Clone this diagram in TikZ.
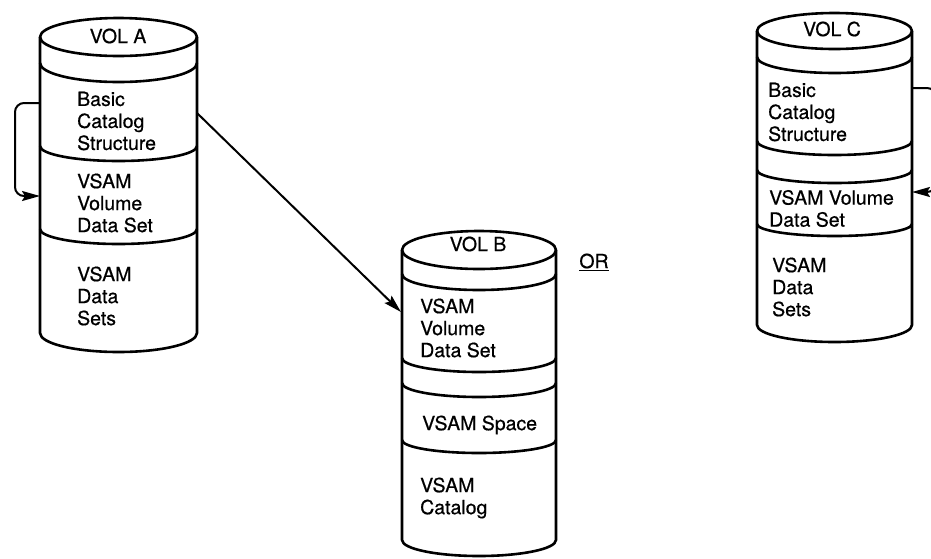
\documentclass[tikz,border=0pt]{standalone}
\usepackage{fontspec}
\setmainfont{TeX Gyre Heros}
\newfontfamily\labelfont[FakeBold=0.6]{TeX Gyre Heros}
\usetikzlibrary{arrows.meta}
\begin{document}
\begin{tikzpicture}[x=1pt,y=-1pt,
  outline/.style={line width=2.6pt, line join=round},
  label/.style={inner sep=0pt, anchor=west, align=left, font=\labelfont\fontsize{19.5}{22}\selectfont},
  head/.style={inner sep=0pt, font=\labelfont\fontsize{19.5}{22}\selectfont},
  link/.style={line width=2pt, -{Stealth[length=18pt,width=10pt,inset=3pt]}},
  sep/.style={start angle=180, end angle=0, x radius=#1},
]
\useasboundingbox (0,0) rectangle (931,558);

% ---------------- VOL A ----------------
\draw[outline] (118.5,37) ellipse[x radius=78.5, y radius=19];
\draw[outline] (40,37) -- (40,333) arc[sep=78.5, y radius=19] -- (197,37);
\draw[outline] (40,63)  arc[sep=78.5, y radius=19];
\draw[outline] (40,146) arc[sep=78.5, y radius=15];
\draw[outline] (40,229) arc[sep=78.5, y radius=15];
\node[head]  (a-title) at (118,36) {VOL A};
\node[label] (a-bcs)  at (77,121) {Basic\\Catalog\\Structure};
\node[label] (a-vvds) at (77,203) {VSAM\\Volume\\Data Set};
\node[label] (a-data) at (77,296) {VSAM\\Data\\Sets};

% ---------------- VOL B ----------------
\draw[outline] (479,250) ellipse[x radius=77, y radius=19];
\draw[outline] (402,250) -- (402,540) arc[sep=77, y radius=16] -- (556,250);
\draw[outline] (402,274) arc[sep=77, y radius=16];
\draw[outline] (402,358) arc[sep=77, y radius=14];
\draw[outline] (402,383) arc[sep=77, y radius=14];
\draw[outline] (402,440) arc[sep=77, y radius=13];
\node[head]  (b-title) at (478,244) {VOL B};
\node[label] (b-vvds)  at (420,328) {VSAM\\Volume\\Data Set};
\node[label] (b-space) at (422,425) {VSAM Space};
\node[label] (b-cat)   at (420,498) {VSAM\\Catalog};

% ---------------- VOL C ----------------
\draw[outline] (834.5,31) ellipse[x radius=77.5, y radius=18];
\draw[outline] (757,31) -- (757,325) arc[sep=77.5, y radius=17] -- (912,31);
\draw[outline] (757,57)  arc[sep=77.5, y radius=16];
\draw[outline] (757,141) arc[sep=77.5, y radius=14];
\draw[outline] (757,170) arc[sep=77.5, y radius=13];
\draw[outline] (757,224) arc[sep=77.5, y radius=12];
\node[head]  (c-title) at (832,29) {VOL C};
\node[label] (c-bcs)  at (768,112) {Basic\\Catalog\\Structure};
\node[label] (c-vvds) at (769,208.5) {VSAM Volume\\Data Set};
\node[label] (c-data) at (772,287) {VSAM\\Data\\Sets};

\node[head] (or) at (594,262) {\underline{OR}};

% ---------------- connectors ----------------
\coordinate (a-loop-out) at (40,103);
\coordinate (a-loop-in)  at (40,196);
\draw[link, rounded corners=9pt] (a-loop-out) -- (15,103) -- (15,196) -- (a-loop-in);

\coordinate (a-out) at (197,113);
\coordinate (b-in)  at (401,312);
\draw[link] (a-out) -- (b-in);

\coordinate (c-loop-out) at (912,88);
\coordinate (c-loop-in)  at (912,192);
\draw[link, rounded corners=9pt] (c-loop-out) -- (936,88) -- (936,192) -- (c-loop-in);
\end{tikzpicture}
\end{document}
